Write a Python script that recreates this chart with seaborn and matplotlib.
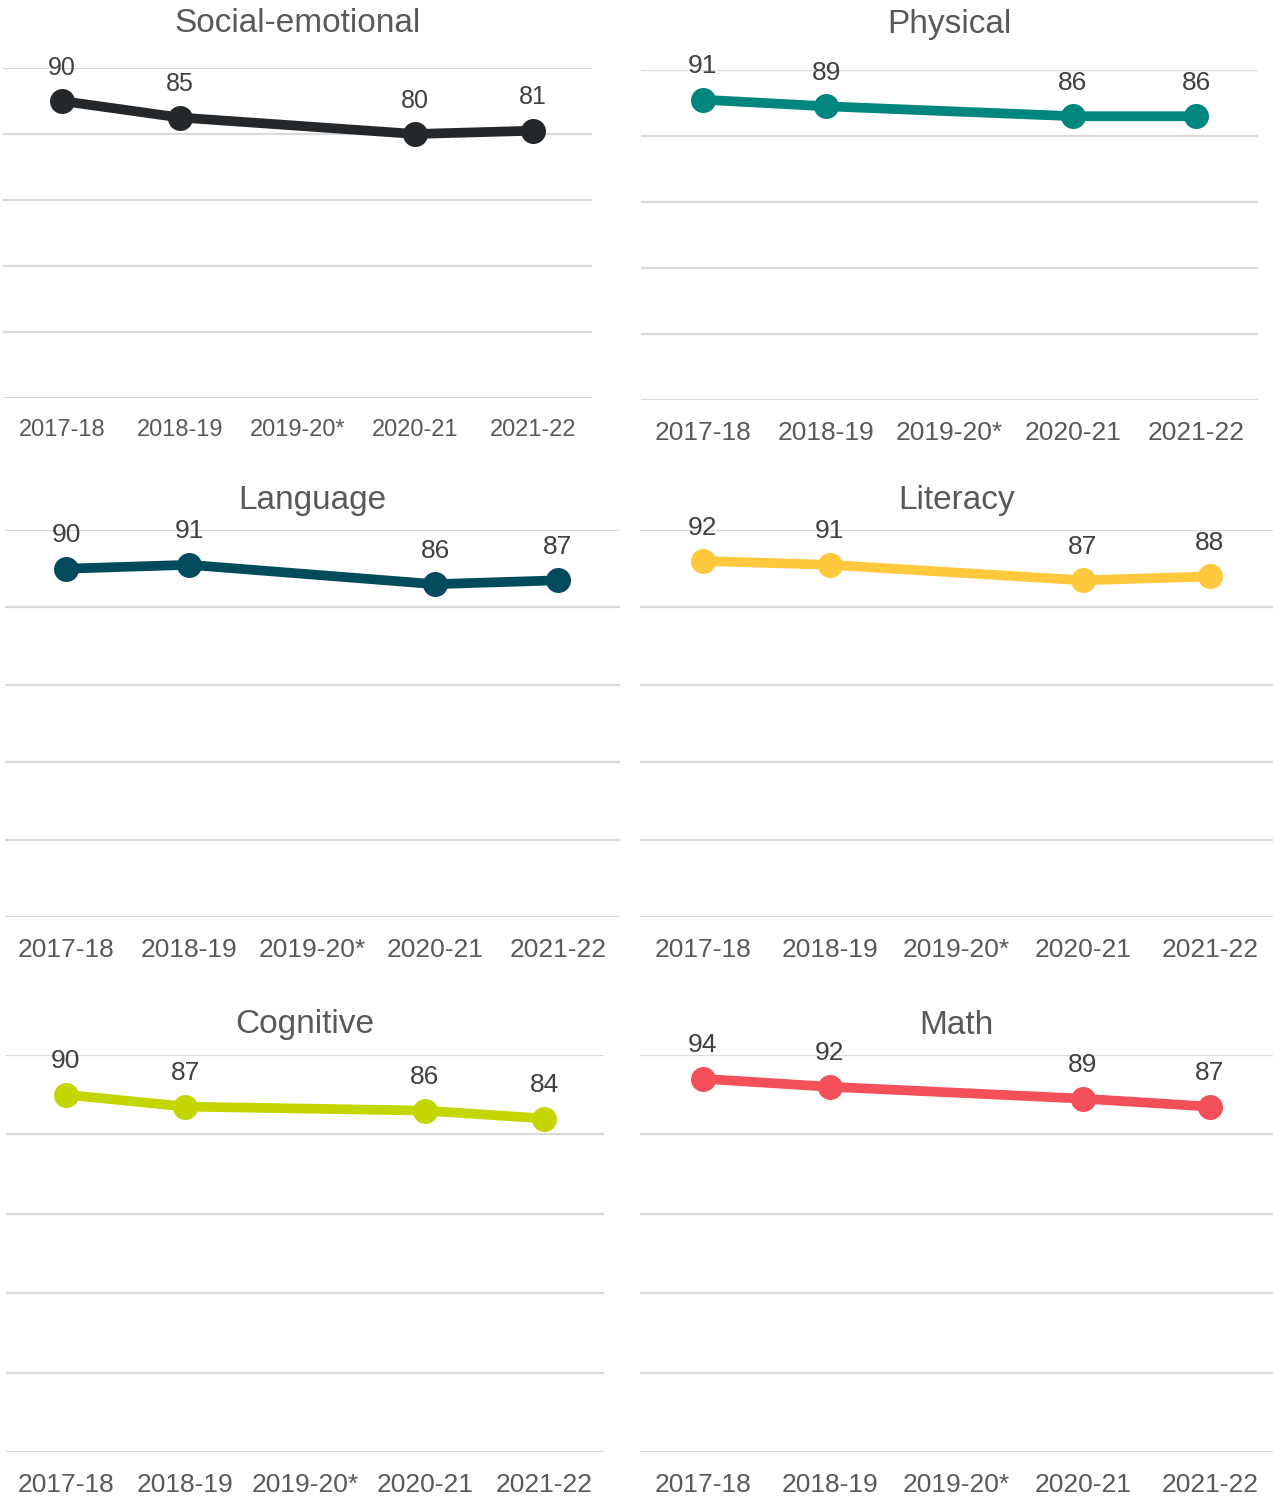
import matplotlib.pyplot as plt
import pandas as pd
import seaborn as sns

plt.switch_backend("Agg")

YEARS = ["2017-18", "2018-19", "2019-20*", "2020-21", "2021-22"]
DATA_YEARS = ["2017-18", "2018-19", "2020-21", "2021-22"]

social_emotional = [90, 85, 80, 81]
physical = [91, 89, 86, 86]
language = [90, 91, 86, 87]
literacy = [92, 91, 87, 88]
cognitive = [90, 87, 86, 84]
math = [94, 92, 89, 87]

DOMAINS = ["Social-emotional", "Physical", "Language", "Literacy", "Cognitive", "Math"]
VALUES = [social_emotional, physical, language, literacy, cognitive, math]
COLORS = ["#25282A", "#00857F", "#024B5C", "#FFC83D", "#C4D600", "#F4505A"]

# panel boxes in pixels: left, right, top (y=100), bottom (y=0)
BOXES = [
    (3, 592, 68, 398),
    (641, 1258, 70, 400),
    (4.5, 619.5, 530, 917),
    (639.5, 1273, 530, 917),
    (6, 604, 1055, 1452),
    (639.5, 1273, 1055, 1452),
]
TICK_SIZES = [17, 19, 19, 19, 19, 19]
LABEL_SIZES = [18, 19, 19, 19, 19, 19]

W, H = 1273, 1499

sns.set_theme(style="white")
plt.rcParams["font.family"] = ["Liberation Sans", "DejaVu Sans"]

fig = plt.figure(figsize=(W / 100, H / 100), dpi=100)

for name, values, color, box, tsize, lsize in zip(
    DOMAINS, VALUES, COLORS, BOXES, TICK_SIZES, LABEL_SIZES
):
    left, right, top, bottom = box
    ax = fig.add_axes([left / W, 1 - bottom / H, (right - left) / W, (bottom - top) / H])
    frame = pd.DataFrame({"year": DATA_YEARS, "value": values})
    frame["pos"] = frame.year.map(YEARS.index)
    sns.lineplot(
        data=frame,
        x="pos",
        y="value",
        color=color,
        linewidth=7,
        marker="o",
        markersize=18,
        markeredgewidth=0,
        ax=ax,
        zorder=3,
    )
    for pos, value in zip(frame.pos, frame.value):
        ax.annotate(
            f"{value}",
            (pos, value),
            xytext=(0, 24),
            textcoords="offset points",
            ha="center",
            va="center",
            fontsize=lsize,
            color="#404040",
            annotation_clip=False,
        )
    ax.set_xlim(-0.5, 4.5)
    ax.set_ylim(0, 100)
    ax.set_yticks(range(0, 101, 20))
    ax.set_yticklabels([])
    ax.set_xticks(range(len(YEARS)))
    ax.set_xticklabels(YEARS)
    ax.tick_params(axis="x", length=0, pad=15, labelsize=tsize, labelcolor="#595959")
    ax.tick_params(axis="y", length=0)
    ax.grid(axis="y", color="#D9D9D9", linewidth=1.6)
    ax.set_axisbelow(True)
    ax.set(xlabel="", ylabel="")
    for spine in ax.spines.values():
        spine.set_visible(False)
    title_y = {68: 24, 70: 24, 530: 501, 1055: 1025}[top]
    fig.text(
        (left + right) / 2 / W,
        1 - title_y / H,
        name,
        ha="center",
        va="center",
        fontsize=24,
        color="#595959",
    )

fig.savefig("out.png", dpi=100)
